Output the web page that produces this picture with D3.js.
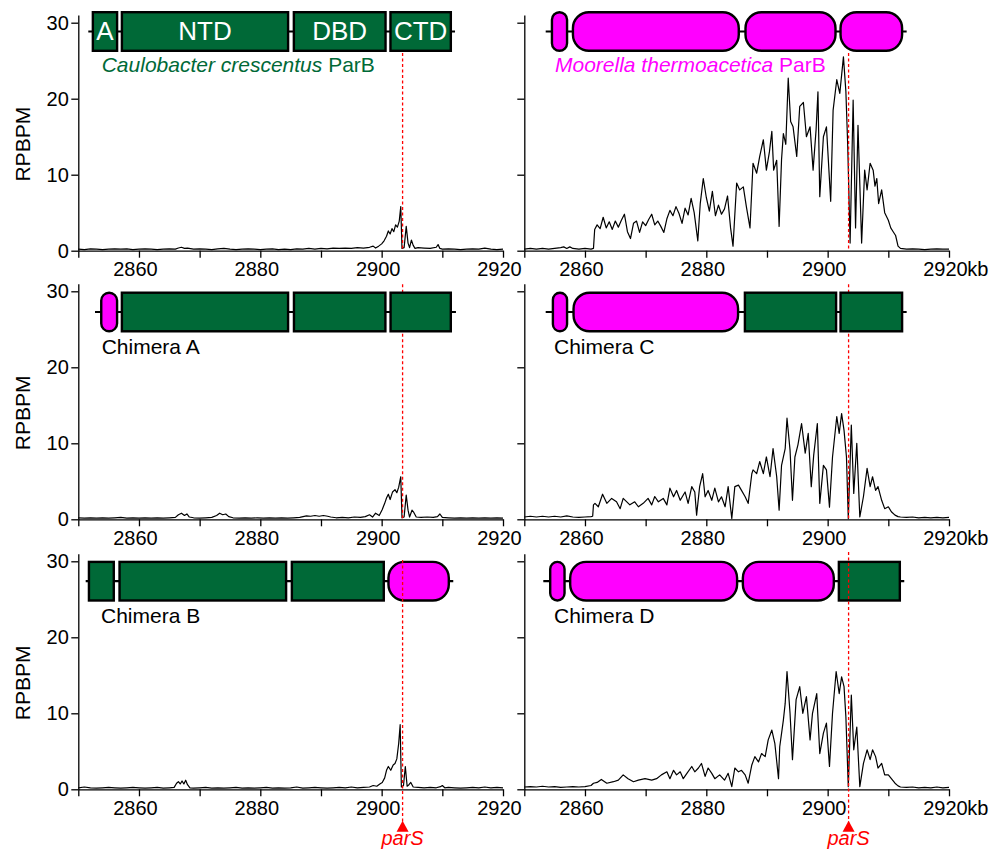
<!DOCTYPE html>
<html>
<head>
<meta charset="utf-8">
<script src="https://cdn.jsdelivr.net/npm/d3@7"></script>
<style>
  body { margin: 0; background: #fff; }
  svg text { font-family: "Liberation Sans", Arial, sans-serif; }
</style>
</head>
<body>
<svg id="chart" width="994" height="853"></svg>
<script>
// Axis settings (kb on x, RPBPM on y)
const xDomain = [2850, 2920];
const xTicks = [2850, 2860, 2870, 2880, 2890, 2900, 2910, 2920];
const xLabelTicks = [2860, 2880, 2900, 2920];
const yDomain = [0, 31];
const yTicks = [0, 10, 20, 30];
const parSPos = 2903.45;

// ChIP profiles, [position kb, RPBPM]
const ccParB = [[2850,0.2],[2851,0.15],[2852,0.25],[2853,0.2],[2854,0.15],[2855,0.2],[2856,0.25],[2857,0.2],[2858,0.25],[2859,0.15],[2860,0.2],[2861,0.25],[2862,0.2],[2863,0.15],[2864,0.2],[2865,0.25],[2866,0.2],[2866.5,0.35],[2867,0.45],[2867.5,0.3],[2868,0.35],[2869,0.2],[2870,0.25],[2871,0.2],[2872,0.15],[2873,0.25],[2874,0.3],[2875,0.2],[2876,0.15],[2877,0.2],[2878,0.25],[2879,0.2],[2880,0.15],[2881,0.2],[2882,0.25],[2883,0.15],[2884,0.2],[2885,0.15],[2886,0.25],[2887,0.2],[2888,0.3],[2889,0.2],[2890,0.3],[2891,0.25],[2892,0.35],[2893,0.3],[2894,0.35],[2895,0.3],[2896,0.4],[2897,0.35],[2898,0.45],[2898.6,0.6],[2899,0.35],[2899.5,0.6],[2900,0.9],[2900.4,1.3],[2900.8,1.9],[2901.1,2.6],[2901.4,2.2],[2901.7,2.9],[2902,2.5],[2902.3,3.4],[2902.6,3.1],[2902.9,3.9],[2903.15,5.8],[2903.35,0.3],[2903.7,0.4],[2904.05,3.2],[2904.35,1.0],[2904.6,0.4],[2904.9,1.4],[2905.2,0.7],[2905.5,0.3],[2906,0.4],[2907,0.35],[2908,0.3],[2909,0.45],[2909.3,0.8],[2909.6,0.3],[2910,0.2],[2911,0.25],[2912,0.2],[2913,0.15],[2914,0.2],[2915,0.25],[2916,0.2],[2917,0.35],[2918,0.2],[2919,0.15],[2920,0.2]];

const mtParB = [[2850,0.2],[2851,0.3],[2852,0.2],[2853,0.3],[2854,0.2],[2855,0.3],[2856,0.4],[2856.5,0.5],[2857,0.3],[2857.5,0.5],[2858,0.3],[2859,0.2],[2860,0.3],[2861,0.2],[2861.4,0.3],[2861.6,2.8],[2862,3.4],[2862.5,2.9],[2863,4.4],[2863.5,3.0],[2864,3.8],[2864.5,2.8],[2865,3.9],[2865.5,3.1],[2866,4.0],[2866.5,4.8],[2867,2.5],[2867.5,1.6],[2868,3.6],[2868.5,3.9],[2869,2.4],[2869.5,3.8],[2870,3.3],[2870.5,4.1],[2871,4.8],[2871.5,3.4],[2872,3.9],[2872.5,3.2],[2873,2.4],[2873.5,4.2],[2874,5.3],[2874.5,4.6],[2875,5.8],[2875.5,4.9],[2876,3.6],[2876.5,5.6],[2877,4.7],[2877.5,6.9],[2878,5.0],[2878.6,1.3],[2879,6.2],[2879.5,9.5],[2880,7.0],[2880.5,5.2],[2881,7.8],[2881.5,4.6],[2882,6.0],[2882.5,4.8],[2883,5.5],[2883.5,7.2],[2884,3.0],[2884.4,0.6],[2885,8.9],[2885.5,8.0],[2886.1,8.4],[2886.6,5.8],[2887.2,3.0],[2887.7,11.5],[2888.3,10.2],[2888.8,12.4],[2889.4,14.6],[2889.9,10.6],[2890.4,13.0],[2890.8,15.7],[2891.1,10.6],[2891.6,11.9],[2892,3.2],[2892.4,12.0],[2892.7,15.4],[2893.1,14.0],[2893.5,22.7],[2893.9,17.0],[2894.3,16.3],[2894.9,12.4],[2895.4,19.0],[2896,19.5],[2896.5,15.0],[2897.1,16.3],[2897.6,10.6],[2898.1,16.0],[2898.4,20.9],[2898.7,7.1],[2899.3,15.0],[2899.8,16.3],[2900.5,6.5],[2900.9,18.5],[2901.5,22.5],[2902,20.7],[2902.6,25.5],[2903,21.0],[2903.3,14.0],[2903.7,1.0],[2904.2,19.8],[2904.6,3.0],[2905,16.5],[2905.6,1.0],[2906.1,10.6],[2906.5,8.0],[2907,11.5],[2907.5,10.6],[2907.8,8.5],[2908.1,9.5],[2908.4,6.2],[2908.9,8.0],[2909.4,5.0],[2910,4.0],[2910.4,3.0],[2910.8,2.5],[2911.2,2.0],[2911.6,0.6],[2912,0.3],[2913,0.2],[2914,0.25],[2915,0.2],[2916,0.15],[2917,0.2],[2918,0.25],[2919,0.2],[2920,0.2]];

const chimeraA = [[2850,0.2],[2851,0.15],[2852,0.2],[2853,0.15],[2854,0.2],[2855,0.15],[2856,0.2],[2857,0.25],[2858,0.15],[2859,0.2],[2860,0.15],[2861,0.2],[2862,0.15],[2863,0.2],[2864,0.15],[2865,0.2],[2866,0.25],[2866.5,0.6],[2867,0.8],[2867.5,0.5],[2867.9,0.7],[2868.3,0.3],[2869,0.2],[2870,0.15],[2871,0.2],[2872,0.25],[2872.8,0.5],[2873.3,0.8],[2873.8,0.6],[2874.3,0.7],[2874.8,0.35],[2875.5,0.2],[2876.5,0.15],[2877.5,0.2],[2878.5,0.15],[2879.5,0.2],[2880.5,0.15],[2881.5,0.2],[2882.5,0.15],[2883.5,0.2],[2884.5,0.15],[2885.5,0.2],[2886.5,0.25],[2887.6,0.45],[2888.3,0.4],[2889,0.5],[2889.7,0.4],[2890.4,0.5],[2891.1,0.4],[2891.6,0.3],[2892.5,0.2],[2893.5,0.25],[2894.5,0.2],[2895.5,0.3],[2896.5,0.25],[2897.3,0.35],[2898,0.6],[2898.5,0.3],[2899,0.8],[2899.6,0.5],[2900.1,1.3],[2900.5,2.1],[2900.8,2.8],[2901.1,3.3],[2901.4,2.6],[2901.8,3.6],[2902.2,3.9],[2902.5,3.5],[2902.8,4.2],[2903.15,5.6],[2903.35,0.2],[2903.7,0.3],[2904.05,3.2],[2904.35,1.2],[2904.6,0.3],[2905,1.2],[2905.3,0.9],[2905.7,0.3],[2906.5,0.25],[2907.5,0.3],[2908.5,0.25],[2909.2,0.35],[2909.6,0.7],[2910,0.25],[2911,0.2],[2912,0.15],[2913,0.2],[2914,0.15],[2915,0.2],[2916,0.15],[2917,0.2],[2918,0.15],[2919,0.2],[2920,0.15]];

const chimeraB = [[2850,0.2],[2851,0.3],[2852,0.2],[2853,0.15],[2854,0.2],[2855,0.25],[2856,0.2],[2857,0.15],[2858,0.2],[2859,0.25],[2860,0.2],[2861,0.15],[2862,0.2],[2863,0.25],[2864,0.15],[2865,0.2],[2865.8,0.25],[2866.2,0.8],[2866.5,1.0],[2866.8,0.7],[2867.1,1.1],[2867.4,0.7],[2867.7,1.2],[2868,0.6],[2868.4,0.2],[2869,0.15],[2870,0.2],[2871,0.25],[2872,0.15],[2873,0.2],[2874,0.15],[2875,0.2],[2876,0.25],[2877,0.15],[2878,0.2],[2879,0.15],[2880,0.2],[2881,0.25],[2882,0.15],[2883,0.2],[2884,0.15],[2885,0.2],[2886,0.3],[2887,0.15],[2888,0.2],[2889,0.25],[2890,0.2],[2891,0.15],[2892,0.2],[2893,0.25],[2894,0.2],[2895,0.3],[2896,0.2],[2897,0.25],[2898,0.3],[2898.6,0.5],[2899.2,0.4],[2899.7,0.7],[2900.1,0.9],[2900.5,1.5],[2900.8,2.5],[2901.1,3.0],[2901.5,2.5],[2901.9,3.2],[2902.2,3.4],[2902.5,4.0],[2902.8,6.0],[2903.05,8.5],[2903.25,0.3],[2903.6,0.5],[2903.9,3.0],[2904.2,0.4],[2904.5,0.6],[2904.8,0.9],[2905.2,0.3],[2906,0.25],[2907,0.2],[2908,0.25],[2909,0.2],[2909.7,0.35],[2910,0.5],[2910.4,0.2],[2911,0.25],[2912,0.2],[2913,0.15],[2914,0.2],[2915,0.25],[2916,0.2],[2917,0.3],[2918,0.2],[2919,0.25],[2920,0.2]];

const chimeraC = [[2850,0.3],[2851,0.4],[2852,0.3],[2853,0.4],[2854,0.3],[2855,0.4],[2856,0.3],[2857,0.45],[2858,0.3],[2859,0.25],[2860,0.3],[2861,0.35],[2861.27,0.4],[2861.4,1.9],[2861.65,2.1],[2862.2,1.65],[2862.9,3.3],[2863.6,2.1],[2864.4,2.75],[2865.2,2.3],[2865.8,1.4],[2866.3,2.75],[2867.4,1.9],[2868.2,2.3],[2868.8,1.65],[2869.6,2.1],[2870.4,2.75],[2871,1.9],[2871.5,3.0],[2872.1,2.3],[2872.9,2.75],[2873.5,1.9],[2874,4.1],[2874.6,2.96],[2875.1,3.8],[2875.7,2.5],[2876.5,3.6],[2877,2.1],[2877.6,4.3],[2878.1,3.6],[2878.4,0.55],[2878.9,4.3],[2879.4,6.0],[2879.8,2.96],[2880.3,3.8],[2880.9,2.5],[2881.4,4.1],[2882,2.3],[2882.5,2.96],[2883.1,1.65],[2883.6,4.3],[2884.2,0.1],[2884.7,4.3],[2885.3,4.5],[2885.8,3.8],[2886.4,2.96],[2886.9,2.1],[2887.5,6.0],[2887.7,6.5],[2888.3,6.0],[2888.8,7.6],[2889.4,6.0],[2889.9,8.2],[2890.5,5.6],[2891,9.3],[2891.6,5.6],[2892,1.2],[2892.4,7.1],[2893,9.3],[2893.3,13.3],[2893.8,9.1],[2894.2,2.5],[2894.6,8.2],[2895.1,9.8],[2895.7,12.6],[2896.3,8.7],[2896.8,11.3],[2897.3,4.3],[2897.7,8.45],[2898.3,12.6],[2898.7,2.1],[2899.3,7.1],[2899.8,6.5],[2900.3,1.6],[2900.8,8.2],[2901.5,13.5],[2901.9,11.3],[2902.3,13.9],[2902.7,11.7],[2903.1,8.2],[2903.4,0.1],[2903.9,12.4],[2904.3,3.4],[2904.8,10.0],[2905.3,0.3],[2905.9,3.0],[2906.5,6.7],[2907,4.3],[2907.4,5.6],[2907.9,3.8],[2908.3,4.3],[2908.9,2.5],[2909.4,1.4],[2910,1.65],[2910.5,1.0],[2911.1,0.55],[2911.6,0.35],[2912,0.3],[2913,0.25],[2914,0.3],[2915,0.2],[2916,0.25],[2917,0.2],[2918,0.25],[2919,0.2],[2920,0.25]];

const chimeraD = [[2850,0.3],[2851,0.35],[2852,0.3],[2853,0.4],[2854,0.3],[2855,0.35],[2856,0.25],[2857,0.3],[2858,0.35],[2859,0.3],[2860,0.35],[2861,0.5],[2861.4,0.8],[2862,0.9],[2862.7,1.3],[2863.6,0.8],[2864.7,1.0],[2865.5,1.2],[2866.3,1.9],[2867.1,1.4],[2868,1.0],[2868.8,1.2],[2869.9,1.4],[2871,1.2],[2871.8,1.4],[2872.6,1.9],[2873.5,2.3],[2874,1.4],[2874.6,2.5],[2875.1,1.9],[2875.7,2.3],[2876.2,1.4],[2876.8,2.1],[2877.6,3.0],[2878.1,2.3],[2878.7,2.8],[2879.2,3.4],[2879.8,1.7],[2880.3,2.8],[2880.9,2.1],[2881.4,1.4],[2882.2,1.9],[2883,1.2],[2883.6,2.1],[2884.2,0.35],[2884.7,2.8],[2885.3,2.3],[2885.8,2.5],[2886.4,1.9],[2886.9,0.8],[2887.5,3.2],[2888,4.3],[2888.6,3.6],[2889.1,4.7],[2889.7,4.3],[2890.2,6.5],[2890.8,7.8],[2891.3,6.0],[2891.9,1.4],[2892.1,5.6],[2892.7,9.1],[2893,11.3],[2893.3,15.5],[2893.8,10.0],[2894.2,3.9],[2894.8,11.8],[2895.4,13.5],[2895.9,10.0],[2896.5,12.2],[2897.1,6.5],[2897.5,10.0],[2898.2,12.6],[2898.7,4.7],[2899.3,7.4],[2899.8,8.7],[2900.3,3.0],[2900.8,10.0],[2901.4,15.5],[2901.9,12.6],[2902.3,14.8],[2902.7,13.5],[2903,9.6],[2903.4,0.35],[2903.9,12.4],[2904.3,5.2],[2904.8,8.2],[2905.3,0.35],[2905.9,3.4],[2906.5,5.2],[2907,3.9],[2907.4,5.2],[2907.9,4.3],[2908.3,2.8],[2908.9,3.4],[2909.4,1.9],[2910,1.9],[2910.5,1.4],[2911.1,0.8],[2911.6,0.45],[2912,0.3],[2913,0.25],[2914,0.3],[2915,0.2],[2916,0.25],[2917,0.2],[2918,0.3],[2919,0.2],[2920,0.25]];

// Protein schematics: domains in residue-like units from the N-terminus
// src: which ParB the domain comes from (cc = Caulobacter, mt = Moorella)
const ccDomains = [
  { src: 'cc', from: 2.8, to: 25, name: 'A' },
  { src: 'cc', from: 27, to: 167.5, name: 'NTD' },
  { src: 'cc', from: 170.3, to: 248.7, name: 'DBD' },
  { src: 'cc', from: 250.8, to: 303.1, name: 'CTD' }
];
const mtDomains = [
  { src: 'mt', from: 4.2, to: 18.8 },
  { src: 'mt', from: 21.7, to: 161.9 },
  { src: 'mt', from: 165.5, to: 242.5 },
  { src: 'mt', from: 244.7, to: 298 }
];
const chimeraADomains = [
  { src: 'mt', from: 4.2, to: 19.4 },
  { src: 'cc', from: 21.4, to: 161.9 },
  { src: 'cc', from: 164.8, to: 243 },
  { src: 'cc', from: 245.3, to: 297.5 }
];
const chimeraBDomains = [
  { src: 'cc', from: 1.7, to: 24.4 },
  { src: 'cc', from: 27.2, to: 168 },
  { src: 'cc', from: 170.8, to: 249.4 },
  { src: 'mt', from: 251.3, to: 303.6 }
];
const chimeraCDomains = [
  { src: 'mt', from: 5, to: 18.8 },
  { src: 'mt', from: 22.2, to: 161.3 },
  { src: 'cc', from: 165, to: 243 },
  { src: 'cc', from: 244.7, to: 298 }
];
const chimeraDDomains = [
  { src: 'mt', from: 4.75, to: 18.7 },
  { src: 'mt', from: 21.4, to: 162.5 },
  { src: 'mt', from: 165.3, to: 243.1 },
  { src: 'cc', from: 245.3, to: 298.1 }
];
const proteinLengths = { cc: 305.6, mt: 300.8, A: 300.8, B: 306.3, C: 300.8, D: 300.8 };

// colours
const srcColor = { cc: '#006937', mt: '#ff00ff' };

// layout
const colX = [[78.3, 503], [524.3, 949]];
const rowY0 = [250.7, 519.3, 789.3];
const pxPerUnit = 7.6;
const schemeMid = [31.5, 312, 581.2];
const schemeH = 41;
const pxPerResidue = 1.2;
const boxStroke = 2.4;

const panels = [
  { trace: ccParB, domains: ccDomains, len: proteinLengths.cc, row: 0, col: 0, sx: 88.3, tx: 101.7,
    title: [{ t: 'Caulobacter crescentus', it: true }, { t: ' ParB' }], titleColor: srcColor.cc },
  { trace: mtParB, domains: mtDomains, len: proteinLengths.mt, row: 0, col: 1, sx: 545.7, tx: 555,
    title: [{ t: 'Moorella thermoacetica', it: true }, { t: ' ParB' }], titleColor: srcColor.mt },
  { trace: chimeraA, domains: chimeraADomains, len: proteinLengths.A, row: 1, col: 0, sx: 95, tx: 101.7,
    title: [{ t: 'Chimera A' }], titleColor: '#000' },
  { trace: chimeraC, domains: chimeraCDomains, len: proteinLengths.C, row: 1, col: 1, sx: 545.7, tx: 554,
    title: [{ t: 'Chimera C' }], titleColor: '#000' },
  { trace: chimeraB, domains: chimeraBDomains, len: proteinLengths.B, row: 2, col: 0, sx: 85.7, tx: 101,
    title: [{ t: 'Chimera B' }], titleColor: '#000' },
  { trace: chimeraD, domains: chimeraDDomains, len: proteinLengths.D, row: 2, col: 1, sx: 543.3, tx: 554,
    title: [{ t: 'Chimera D' }], titleColor: '#000' }
];

const svg = d3.select('#chart');
const FONT = '"Liberation Sans", Arial, sans-serif';

function drawDomains(g, p) {
  const s = d3.scaleLinear().domain([0, p.len]).range([p.sx, p.sx + p.len * pxPerResidue]);
  const mid = schemeMid[p.row];
  const half = boxStroke / 2;

  g.append('line')
    .attr('x1', s(0)).attr('x2', s(p.len))
    .attr('y1', mid).attr('y2', mid)
    .attr('stroke', '#000').attr('stroke-width', 2.2);

  p.domains.forEach(d => {
    // measured extents are outer edges of the black border, so inset by half the stroke
    const bx = s(d.from) + half;
    const bw = s(d.to) - s(d.from) - boxStroke;
    const by = mid - schemeH / 2 + half;
    const bh = schemeH - boxStroke;
    const r = d.src === 'mt' ? Math.min(bw / 2, 16) : 0;
    g.append('rect')
      .attr('x', bx).attr('y', by)
      .attr('width', bw).attr('height', bh)
      .attr('rx', r).attr('ry', r)
      .attr('fill', srcColor[d.src])
      .attr('stroke', '#000').attr('stroke-width', boxStroke);
    if (d.name) {
      g.append('text')
        .attr('x', bx + bw / 2).attr('y', mid + 8.5)
        .attr('text-anchor', 'middle')
        .attr('font-size', 26).attr('fill', '#fff')
        .text(d.name);
    }
  });

  const title = g.append('text')
    .attr('x', p.tx).attr('y', mid + (p.row === 0 ? 40 : 42))
    .attr('font-size', 21).attr('fill', p.titleColor);
  p.title.forEach(part => {
    title.append('tspan').attr('font-style', part.it ? 'italic' : 'normal').text(part.t);
  });
}

function drawParS(g, p, x, y0) {
  const px = x(parSPos);
  let yTop, yBot;
  if (p.row === 0) { yTop = schemeMid[0] + schemeH / 2 + 1; yBot = y0; }
  else if (p.row === 1) { yTop = y0 - 235; yBot = y0; }
  else { yTop = p.col === 0 ? 560 : 552; yBot = y0 + 34; }
  g.append('line')
    .attr('x1', px).attr('x2', px).attr('y1', yTop).attr('y2', yBot)
    .attr('stroke', '#ff0000').attr('stroke-width', 1.3)
    .attr('stroke-dasharray', '3,2.5');
  if (p.row === 2) {
    const tip = y0 + 31.5;
    g.append('path')
      .attr('d', `M${px},${tip} L${px - 6},${tip + 11} L${px + 6},${tip + 11} Z`)
      .attr('fill', '#ff0000');
    g.append('text')
      .attr('x', px).attr('y', y0 + 55.5)
      .attr('text-anchor', 'middle')
      .attr('font-size', 20).attr('font-style', 'italic')
      .attr('fill', '#ff0000')
      .text('parS');
  }
}

panels.forEach(p => {
  const [x0, x1] = colX[p.col];
  const y0 = rowY0[p.row];
  const x = d3.scaleLinear().domain(xDomain).range([x0, x1]);
  const y = d3.scaleLinear().domain(yDomain).range([y0, y0 - (yDomain[1] - yDomain[0]) * pxPerUnit]);
  const g = svg.append('g');

  // y axis
  const yAxis = d3.axisLeft(y).tickValues(yTicks).tickSize(7).tickSizeOuter(0).tickPadding(2.5)
    .tickFormat(d => p.col === 0 ? d : '');
  const ya = g.append('g').attr('transform', `translate(${x0},0)`).call(yAxis);

  // x axis
  const xAxis = d3.axisBottom(x).tickValues(xTicks).tickSize(7).tickSizeOuter(0).tickPadding(4.5)
    .tickFormat(d => xLabelTicks.includes(d) ? d : '');
  const xa = g.append('g').attr('transform', `translate(0,${y0})`).call(xAxis);
  xa.selectAll('text').attr('dx', -4);

  [ya, xa].forEach(a => {
    a.attr('font-family', FONT).attr('font-size', 20);
    a.selectAll('path, line').attr('stroke', '#000').attr('stroke-width', 1.3);
    a.selectAll('text').attr('fill', '#000');
  });

  if (p.col === 1) {
    g.append('text')
      .attr('x', x(2920) - 4 + 22.3).attr('y', y0 + 11.5).attr('dy', '0.71em')
      .attr('font-size', 20).text('kb');
  }
  if (p.col === 0) {
    g.append('text')
      .attr('transform', `translate(30,${y0 - 106.5}) rotate(-90)`)
      .attr('text-anchor', 'middle')
      .attr('font-size', 21)
      .text('RPBPM');
  }

  // profile
  const line = d3.line().x(d => x(d[0])).y(d => y(d[1]));
  g.append('path')
    .datum(p.trace)
    .attr('d', line)
    .attr('fill', 'none')
    .attr('stroke', '#000')
    .attr('stroke-width', 1.2)
    .attr('stroke-linejoin', 'round');

  if (p.row === 1) {
    drawParS(g, p, x, y0);
    drawDomains(g, p);
  } else {
    drawDomains(g, p);
    drawParS(g, p, x, y0);
  }
});
</script>
</body>
</html>
